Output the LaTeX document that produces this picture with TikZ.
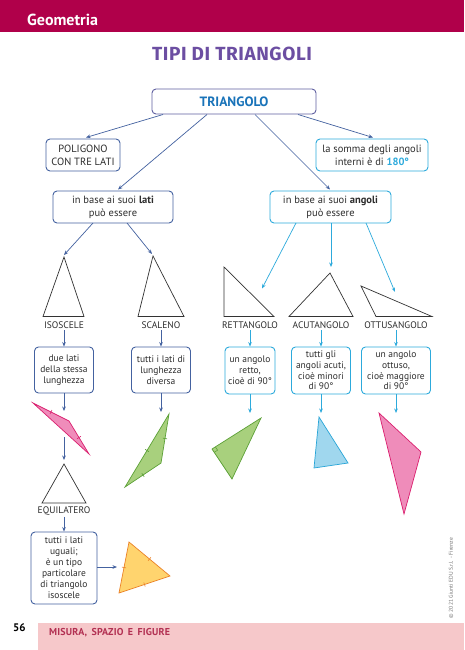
\documentclass[tikz,border=0pt]{standalone}
\usepackage{fontspec}
\setmainfont{PT Sans}
\newfontfamily\titlefont[LetterSpace=3]{Fira Sans}
\newfontfamily\footfont[LetterSpace=2,WordSpace=1.6]{PT Sans}
\usetikzlibrary{arrows.meta,calc}
\definecolor{crim}{RGB}{176,0,74}
\definecolor{dblue}{RGB}{68,98,160}
\definecolor{tblue}{RGB}{96,96,160}
\definecolor{cyanb}{RGB}{45,170,220}
\definecolor{purp}{RGB}{108,78,162}
\definecolor{txt}{RGB}{45,45,45}
\definecolor{triblue}{RGB}{25,115,185}
\definecolor{bandpink}{RGB}{246,200,202}
\definecolor{bandtxt}{RGB}{178,48,82}
\definecolor{pinkf}{RGB}{239,140,186}
\definecolor{pinkd}{RGB}{218,30,110}
\definecolor{greenf}{RGB}{168,208,125}
\definecolor{greend}{RGB}{92,160,55}
\definecolor{bluef}{RGB}{160,215,238}
\definecolor{blued}{RGB}{40,165,215}
\definecolor{yelf}{RGB}{255,212,110}
\definecolor{yeld}{RGB}{235,130,40}
\newcommand\tickmark[3][black]{\draw[#1,line width=0.6pt] ($(#2)!0.5!(#3)!2.2pt!90:(#3)$) -- ($(#2)!0.5!(#3)!-2.2pt!90:(#3)$);}
\tikzset{
  box/.style={draw, rounded corners=4pt, line width=0.9pt, align=center, text=txt, inner sep=0pt},
  bigtxt/.style={font=\fontsize{10.5}{13}\selectfont},
  smalltxt/.style={font=\fontsize{9.5}{11}\selectfont},
  arr/.style={-{Stealth[length=4.5pt,width=3.6pt]}, line width=0.7pt},
  lab/.style={text=txt, font=\fontsize{9.5}{11}\selectfont, inner sep=1.5pt},
  shapeline/.style={draw=black!80, line width=0.7pt, line join=miter},
}
\begin{document}
\begin{tikzpicture}[x=1pt,y=-1pt]
\useasboundingbox (0,0) rectangle (464,650);
\fill[white] (0,0) rectangle (464,650);
% header
\fill[crim] (0,0) rectangle (464,32);
\node[anchor=west, text=white, font=\bfseries\fontsize{16}{18}\selectfont, inner sep=0] (geo) at (27,19.5) {Geometria};
\node[text=purp, font=\titlefont\bfseries\fontsize{19}{21}\selectfont] (title) at (232,54) {TIPI DI TRIANGOLI};

% main boxes
\node[box, draw=tblue, minimum width=164pt, minimum height=25pt, text=triblue, font=\bfseries\fontsize{13.5}{15}\selectfont] (tri) at (234,101.5) {TRIANGOLO};
\node[box, draw=dblue, bigtxt, minimum width=74pt, minimum height=32pt] (poli) at (83,155) {POLIGONO\\CON TRE LATI};
\node[box, draw=cyanb, bigtxt, minimum width=112pt, minimum height=32pt] (somma) at (372,155) {la somma degli angoli\\interni è di \textcolor{cyanb}{\bfseries 180°}};
\node[box, draw=dblue, bigtxt, minimum width=120pt, minimum height=32pt] (lati) at (113,207) {in base ai suoi \textbf{lati}\\può essere};
\node[box, draw=cyanb, bigtxt, minimum width=121pt, minimum height=32pt] (angoli) at (330.5,207) {in base ai suoi \textbf{angoli}\\può essere};

% arrows from TRIANGOLO
\coordinate (a1s) at (163,114.5); \coordinate (a1e) at (86,137.5);
\coordinate (a2s) at (207,114.5); \coordinate (a2e) at (118,189.5);
\coordinate (a3s) at (255,114.5); \coordinate (a3e) at (330,189.5);
\coordinate (a4s) at (298,114.5); \coordinate (a4e) at (373,137.5);
\draw[arr, dblue] (a1s) -- (a1e);
\draw[arr, dblue] (a2s) -- (a2e);
\draw[arr, dblue] (a3s) -- (a3e);
\draw[arr, dblue] (a4s) -- (a4e);

% arrows from lati / angoli
\coordinate (b1s) at (93,223); \coordinate (b1e) at (64,255);
\coordinate (b2s) at (127,223); \coordinate (b2e) at (152,254);
\coordinate (c1s) at (296,223); \coordinate (c1e) at (262,288.5);
\coordinate (c2s) at (331,223); \coordinate (c2e) at (331,267);
\coordinate (c3s) at (366,223); \coordinate (c3e) at (395,292);
\draw[arr, dblue] (b1s) -- (b1e);
\draw[arr, dblue] (b2s) -- (b2e);
\draw[arr, cyanb] (c1s) -- (c1e);
\draw[arr, cyanb] (c2s) -- (c2e);
\draw[arr, cyanb] (c3s) -- (c3e);

% outline triangles
\draw[shapeline] (64,257) -- (43,316.5) -- (84,316.5) -- cycle;
\draw[shapeline] (153,256) -- (138,316.5) -- (184,316.5) -- cycle;
\draw[shapeline] (224,267) -- (224,316.5) -- (274,316.5) -- cycle;
\draw[shapeline] (330,273) -- (289,316.5) -- (353,316.5) -- cycle;
\draw[shapeline] (361,286) -- (376,316.5) -- (432,316.5) -- cycle;

% labels
\node[lab] (lIso) at (64,325) {ISOSCELE};
\node[lab] (lSca) at (161,325) {SCALENO};
\node[lab] (lRet) at (250,325) {RETTANGOLO};
\node[lab] (lAcu) at (321,325) {ACUTANGOLO};
\node[lab] (lOtt) at (396,325) {OTTUSANGOLO};

% description boxes
\node[box, draw=dblue, smalltxt, minimum width=59pt, minimum height=46pt] (bIso) at (64,370) {due lati\\della stessa\\lunghezza};
\node[box, draw=dblue, smalltxt, minimum width=59pt, minimum height=46pt] (bSca) at (161,370) {tutti i lati di\\lunghezza\\diversa};
\node[box, draw=cyanb, smalltxt, minimum width=50pt, minimum height=47pt] (bRet) at (250,370.5) {un angolo\\retto,\\cioè di 90°};
\node[box, draw=cyanb, font=\fontsize{9.5}{10.7}\selectfont, minimum width=59pt, minimum height=47pt] (bAcu) at (321,370.5) {tutti gli\\angoli acuti,\\cioè minori\\di 90°};
\node[box, draw=cyanb, font=\fontsize{9.5}{10.7}\selectfont, minimum width=69pt, minimum height=47pt] (bOtt) at (396,370.5) {un angolo\\ottuso,\\cioè maggiore\\di 90°};

\draw[arr, dblue] (lIso) -- (bIso);
\draw[arr, dblue] (lSca) -- (bSca);
\draw[arr, cyanb] (lRet) -- (bRet);
\draw[arr, cyanb] (lAcu) -- (bAcu);
\draw[arr, cyanb] (lOtt) -- (bOtt);

% arrows to example triangles
\coordinate (eIso) at (64,411); \coordinate (eSca) at (161,412);
\coordinate (eRet) at (250,413); \coordinate (eAcu) at (321,413); \coordinate (eOtt) at (396,413);
\draw[arr, dblue] (bIso) -- (eIso);
\draw[arr, dblue] (bSca) -- (eSca);
\draw[arr, cyanb] (bRet) -- (eRet);
\draw[arr, cyanb] (bAcu) -- (eAcu);
\draw[arr, cyanb] (bOtt) -- (eOtt);

% pink isosceles example
\coordinate (p1) at (33,403); \coordinate (p2) at (69,421); \coordinate (p3) at (89,454);
\filldraw[fill=pinkf, draw=pinkd, line width=0.7pt] (p1) -- (p2) -- (p3) -- cycle;
\tickmark[pinkd]{p1}{p2}
\tickmark[pinkd]{p2}{p3}

% green scalene example
\coordinate (g1) at (169,414); \coordinate (g2) at (161,463); \coordinate (g3) at (125,487);
\filldraw[fill=greenf, draw=greend, line width=0.7pt] (g1) -- (g2) -- (g3) -- cycle;
\tickmark[greend]{g1}{g2}
\tickmark[greend]{g2}{g3}
\tickmark[greend]{g3}{g1}

% green right triangle
\coordinate (r1) at (261,418); \coordinate (r2) at (212,449); \coordinate (r3) at (232,479);
\filldraw[fill=greenf, draw=greend, line width=0.7pt] (r1) -- (r2) -- (r3) -- cycle;
\draw[greend, line width=0.5pt] (215.4,446.9) -- (217.6,450.2) -- (214.2,452.3);

% blue acute
\coordinate (u1) at (319,417); \coordinate (u2) at (314,468); \coordinate (u3) at (348,463);
\filldraw[fill=bluef, draw=blued, line width=0.7pt] (u1) -- (u2) -- (u3) -- cycle;

% pink obtuse
\coordinate (o1) at (379,413); \coordinate (o2) at (421,452); \coordinate (o3) at (404,514);
\filldraw[fill=pinkf, draw=pinkd, line width=0.7pt] (o1) -- (o2) -- (o3) -- cycle;

% equilateral
\coordinate (eqs) at (64,437); \coordinate (eqe) at (64,460);
\draw[arr, dblue] (eqs) -- (eqe);
\draw[shapeline] (64,464) -- (42,503) -- (86,503) -- cycle;
\node[lab] (lEqu) at (64,511) {EQUILATERO};
\node[box, draw=dblue, smalltxt, minimum width=66pt, minimum height=72pt] (bEqu) at (64,568) {tutti i lati\\uguali;\\è un tipo\\particolare\\di triangolo\\isoscele};
\draw[arr, dblue] (lEqu) -- (bEqu);
\coordinate (yArr) at (117,567);
\draw[arr, dblue] (bEqu.east |- yArr) -- (yArr);

% yellow equilateral
\coordinate (y1) at (129,542); \coordinate (y2) at (170,576); \coordinate (y3) at (119,593);
\filldraw[fill=yelf, draw=yeld, line width=0.7pt] (y1) -- (y2) -- (y3) -- cycle;
\tickmark[yeld]{y1}{y2}
\tickmark[yeld]{y2}{y3}
\tickmark[yeld]{y3}{y1}

% copyright
\node[rotate=90, text=black!55, font=\fontsize{5.6}{6}\selectfont, inner sep=0] (copy) at (451,578) {© 2021 Giunti EDU S.r.l. - Firenze};

% footer
\fill[bandpink] (38,623) rectangle (464,650);
\node[anchor=west, text=black, font=\bfseries\fontsize{11}{13}\selectfont, inner sep=0] (pg) at (13,628) {56};
\node[anchor=west, text=bandtxt, font=\footfont\bfseries\fontsize{10}{11}\selectfont, inner sep=0] (foot) at (49,633) {MISURA, SPAZIO E FIGURE};
\end{tikzpicture}
\end{document}
